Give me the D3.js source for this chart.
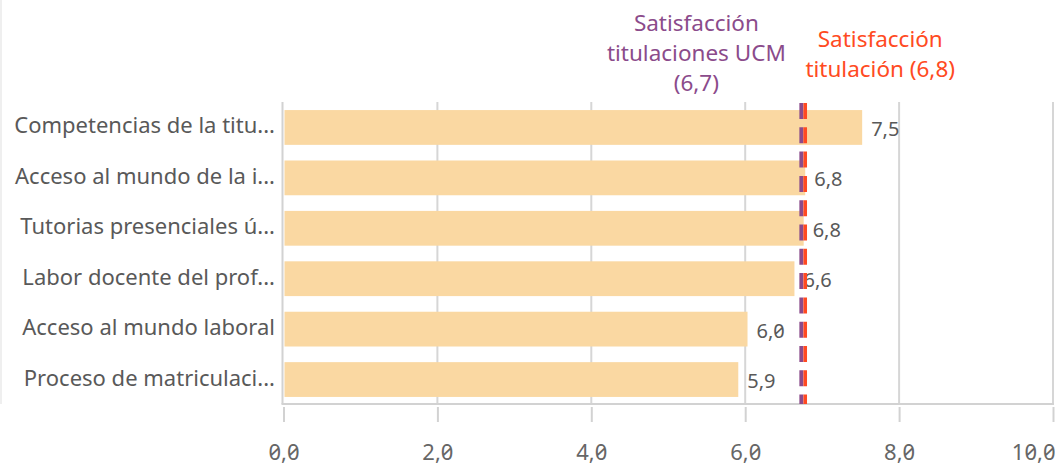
<!DOCTYPE html>
<html>
<head>
<meta charset="utf-8">
<script src="https://cdn.jsdelivr.net/npm/d3@7"></script>
<style>
  body { margin: 0; background: #fff; }
  text { font-family: "Noto Sans", sans-serif; font-feature-settings: "zero" 1; }
  .axis path, .axis line { stroke: #d2d2d2; stroke-width: 2; }
  .axis text { fill: #666; font-size: 22px; }
</style>
</head>
<body>
<div id="chart"></div>
<script>
// data
var categories = [
  "Competencias de la titu...",
  "Acceso al mundo de la i...",
  "Tutorias presenciales ú...",
  "Labor docente del prof...",
  "Acceso al mundo laboral",
  "Proceso de matriculaci..."
];
var values = [7.52, 6.78, 6.76, 6.64, 6.03, 5.91];

var refTitles = [
  ["Satisfacción", "titulaciones UCM", ""],
  ["Satisfacción", "titulación "]
];
var refValues = [6.73, 6.78];
var refColors = ["#8b4b8b", "#ff4a22"];

var xTicks = [0, 2, 4, 6, 8, 10];

(function() {
  var width = 1055, height = 465;
  var plotLeft = 283.5, plotRight = 1053, plotTop = 102, plotBottom = 404;

  var locale = d3.formatLocale({ decimal: ",", thousands: ".", grouping: [3], currency: ["", "€"] });
  var fmt = locale.format(".1f");

  var svg = d3.select("#chart")
    .append("svg")
    .attr("width", width)
    .attr("height", height);

  var xPositionScale = d3.scaleLinear()
    .domain([0, 10])
    .range([plotLeft, plotRight]);

  var yPositionScale = d3.scaleBand()
    .domain(categories)
    .range([plotTop, plotBottom + 1])
    .paddingInner(0.31)
    .paddingOuter(0.16);

  // faint edge of neighbouring panel
  svg.append("line")
    .attr("x1", 1).attr("x2", 1)
    .attr("y1", 0).attr("y2", plotBottom)
    .attr("stroke", "#efefef")
    .attr("stroke-width", 2);

  // vertical grid lines
  svg.append("g")
    .selectAll("line")
    .data(xTicks.slice(1))
    .enter().append("line")
    .attr("x1", function(d) { return xPositionScale(d) })
    .attr("x2", function(d) { return xPositionScale(d) })
    .attr("y1", plotTop)
    .attr("y2", plotBottom)
    .attr("stroke", "#d6d6d6")
    .attr("stroke-width", 2);

  // bars
  svg.append("g")
    .selectAll("rect")
    .data(values)
    .enter().append("rect")
    .attr("x", xPositionScale(0) + 1)
    .attr("y", function(d, i) { return yPositionScale(categories[i]) })
    .attr("width", function(d) { return xPositionScale(d) - xPositionScale(0) - 1 })
    .attr("height", yPositionScale.bandwidth())
    .attr("fill", "#fad8a2");

  // value labels
  svg.append("g")
    .selectAll("text")
    .data(values)
    .enter().append("text")
    .attr("x", function(d) { return xPositionScale(d) + 9 })
    .attr("y", function(d, i) { return yPositionScale(categories[i]) + yPositionScale.bandwidth() / 2 + 8.5 })
    .attr("font-size", "20px")
    .attr("fill", "#595959")
    .text(function(d) { return fmt(d) });

  // category labels
  svg.append("g")
    .selectAll("text")
    .data(categories)
    .enter().append("text")
    .attr("x", 275)
    .attr("y", function(d) { return yPositionScale(d) + yPositionScale.bandwidth() / 2 + 6 })
    .attr("text-anchor", "end")
    .attr("font-size", "22px")
    .attr("fill", "#595959")
    .text(function(d) { return d });

  // y axis line
  svg.append("line")
    .attr("x1", plotLeft - 1).attr("x2", plotLeft - 1)
    .attr("y1", plotTop).attr("y2", plotBottom)
    .attr("stroke", "#d2d2d2")
    .attr("stroke-width", 2);

  // x axis
  var xAxis = d3.axisBottom(xPositionScale)
    .tickValues(xTicks)
    .tickSizeInner(0)
    .tickSizeOuter(0)
    .tickPadding(0)
    .tickFormat(fmt);

  var axisG = svg.append("g")
    .attr("class", "axis x-axis")
    .attr("transform", "translate(0," + plotBottom + ")")
    .call(xAxis);

  axisG.select(".domain").attr("d", "M" + (plotLeft - 2) + ",0H" + (plotRight + 1));
  axisG.selectAll(".tick line")
    .attr("y1", 3)
    .attr("y2", 18);
  axisG.selectAll(".tick text")
    .attr("dy", null)
    .attr("y", 56)
    .attr("text-anchor", function(d, i) { return i === xTicks.length - 1 ? "end" : "middle" })
    .attr("dx", function(d, i) { return i === xTicks.length - 1 ? 2 : 0 });

  // reference lines
  var refWidths = [4, 3.6];
  svg.append("g")
    .selectAll("line")
    .data(refValues)
    .enter().append("line")
    .attr("x1", function(d) { return xPositionScale(d) })
    .attr("x2", function(d) { return xPositionScale(d) })
    .attr("y1", plotTop + 1)
    .attr("y2", plotBottom)
    .attr("stroke", function(d, i) { return refColors[i] })
    .attr("stroke-width", function(d, i) { return refWidths[i] })
    .attr("stroke-dasharray", "16,8.3");

  // reference labels
  var labelShift = [-105, 75];
  var labelTop = [30.5, 46.5];
  refValues.forEach(function(v, i) {
    var lines = refTitles[i].slice();
    lines[lines.length - 1] = lines[lines.length - 1] + "(" + fmt(v) + ")";
    var t = svg.append("text")
      .attr("text-anchor", "middle")
      .attr("font-size", "22.5px")
      .attr("fill", refColors[i]);
    lines.forEach(function(line, j) {
      t.append("tspan")
        .attr("x", xPositionScale(v) + labelShift[i])
        .attr("y", labelTop[i] + j * 30.2)
        .text(line);
    });
  });

})();
</script>
</body>
</html>
